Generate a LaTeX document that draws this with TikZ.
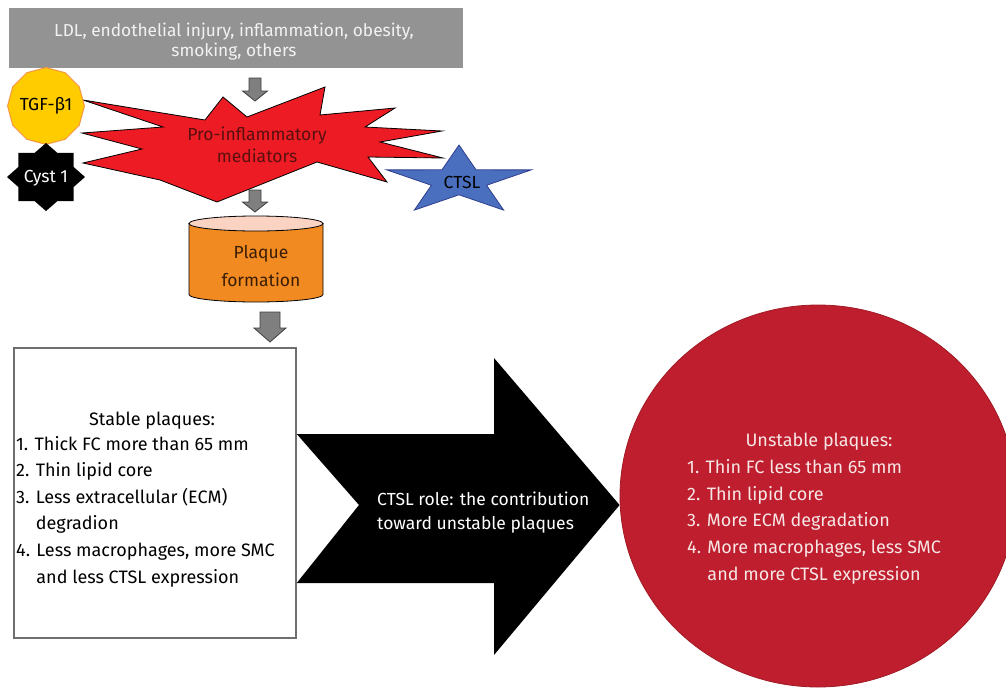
\documentclass[tikz,border=0pt]{standalone}
\usepackage{fontspec}
\setmainfont{Fira Sans}
\usetikzlibrary{shapes.geometric}
\definecolor{bannergray}{HTML}{939393}
\definecolor{bannertext}{HTML}{F2F2F2}
\definecolor{burstred}{HTML}{ED1C24}
\definecolor{bursttext}{HTML}{5A0F0F}
\definecolor{tgfyellow}{HTML}{FFCC00}
\definecolor{tgfborder}{HTML}{F79646}
\definecolor{ctslblue}{HTML}{4A6FBF}
\definecolor{ctslborder}{HTML}{2F3E8C}
\definecolor{plaqueorange}{HTML}{F28A22}
\definecolor{plaquetop}{HTML}{FBD3C3}
\definecolor{plaquetext}{HTML}{3A1D05}
\definecolor{arrowgray}{HTML}{7F7F7F}
\definecolor{arrowedge}{HTML}{3F3F3F}
\definecolor{boxgray}{HTML}{6E6E6E}
\definecolor{unstablered}{HTML}{BE1E2D}
\definecolor{unstableedge}{HTML}{A01B25}
\definecolor{unstabletext}{HTML}{F7E6E6}
\newcommand\blockdn[6]{% x, ytop, yhead, ytip, shaft half width, head half width
  \draw[grayarrow] (#1-#5,#2) -- (#1+#5,#2) -- (#1+#5,#3) -- (#1+#6,#3) -- (#1,#4) -- (#1-#6,#3) -- (#1-#5,#3) -- cycle;}
\begin{document}
\begin{tikzpicture}[x=1pt,y=-1pt,
  every node/.style={inner sep=0pt},
  txt/.style={font=\fontsize{17.5}{26.5}\selectfont},
  boxtxt/.style={font=\fontsize{18}{26.6}\selectfont},
  smalltxt/.style={font=\fontsize{17.3}{20.5}\selectfont},
  grayarrow/.style={fill=arrowgray,draw=arrowedge,line width=0.8pt},
  burst/.style={fill=burstred,draw=black,line width=0.8pt},
]
\useasboundingbox (0,0) rectangle (1006,688);

% source banner
\node[fill=bannergray,minimum width=454,minimum height=60] (src) at (236,38) {};
\node[smalltxt,text=bannertext,align=center] (srctext) at (234,41.5)
  {LDL, endothelial injury, inflammation, obesity,\\smoking, others};

% arrow banner -> burst
\blockdn{255}{78}{91}{101}{6}{12.5}

% starburst
\draw[burst] (83,100) -- (205,120) -- (223,97) -- (247,117) -- (325,87) -- (320,115)
  -- (395,108) -- (365,127) -- (442,131) -- (380,142) -- (443,158) -- (368,157)
  -- (387,182) -- (317,162) -- (217,202) -- (160,180) -- (83,163) -- (142,149)
  -- (82,133) -- (163,127) -- cycle;
\node[font=\fontsize{17.5}{22}\selectfont,text=bursttext,align=center] (burstlabel) at (257,144.3)
  {Pro-inflammatory\\mediators};

% TGF-beta1
\node[regular polygon,regular polygon sides=12,shape border rotate=15,minimum size=68,
  fill=tgfyellow,draw=tgfborder,line width=1pt,txt] (tgf) at (46,106) {TGF-β1};

% Cyst 1
\fill[black] ([shift={(46,177)}]0:39 and 34)
  \foreach \a in {0,45,...,315} { -- ([shift={(46,177)}]\a+22.5:30 and 26) -- ([shift={(46,177)}]\a+45:39 and 34) } -- cycle;
\node[txt,text=white] (cyst) at (46,178) {Cyst 1};

% CTSL star
\draw[fill=ctslblue,draw=ctslborder,line width=0.8pt]
  ([shift={(459,181)}]270:76 and 36)
  \foreach \a in {270,342,54,126,198} { -- ([shift={(459,181)}]\a+36:29 and 13.8) -- ([shift={(459,181)}]\a+72:76 and 36) } -- cycle;
\node[txt,text=black] (ctsl) at (462,182) {CTSL};

% arrow burst -> plaque
\blockdn{255}{190}{202}{212}{6}{12.5}

% plaque formation cylinder
\draw[fill=plaqueorange,draw=black,line width=0.8pt]
  (189,223.5) -- (189,294.5) arc[start angle=180,end angle=0,x radius=67,y radius=7.5]
  -- (323,223.5) -- cycle;
\draw[fill=plaquetop,draw=black,line width=0.8pt] (256,223.5) ellipse[x radius=67,y radius=7.5];
\node[txt,text=plaquetext,align=center,font=\fontsize{17.5}{27.5}\selectfont] (plaque) at (261,266)
  {Plaque\\formation};

% arrow plaque -> stable
\blockdn{270}{312}{328}{342}{10}{16}

% stable plaques box
\node[draw=boxgray,line width=1.5pt,minimum width=282,minimum height=290] (stable) at (155,493) {};
\node[boxtxt,anchor=base] (stablehead) at (152,425) {Stable plaques:};
\node[boxtxt,anchor=west,align=left] (stablelist) at (16,511.5)
  {1. Thick FC more than 65 mm\\
   2. Thin lipid core\\
   3. Less extracellular (ECM)\\
   \phantom{3. }degradion\\
   4. Less macrophages, more SMC\\
   \phantom{4. }and less CTSL expression};

% unstable plaques circle
\node[ellipse,fill=unstablered,draw=unstableedge,line width=0.8pt,minimum width=396,minimum height=382] (unstable) at (818,496) {};
\node[boxtxt,anchor=base,text=unstabletext] (unstablehead) at (819,446.8) {Unstable plaques:};
\node[boxtxt,anchor=west,align=left,text=unstabletext] (unstablelist) at (687,521.7)
  {1. Thin FC less than 65 mm\\
   2. Thin lipid core\\
   3. More ECM degradation\\
   4. More macrophages, less SMC\\
   \phantom{4. }and more CTSL expression};

% big black arrow stable -> unstable
\fill[black] (stable.east |- 0,434) -- (494,434) -- (494,358) -- (unstable.west |- 0,505)
  -- (494,655) -- (494,583) -- (stable.east |- 0,583) -- (359,505) -- cycle;
\node[anchor=west,align=left,text=white,font=\fontsize{17.5}{24}\selectfont] (ctslrole) at (377,512.5)
  {CTSL role: the contribution\\toward unstable plaques};
\end{tikzpicture}
\end{document}
